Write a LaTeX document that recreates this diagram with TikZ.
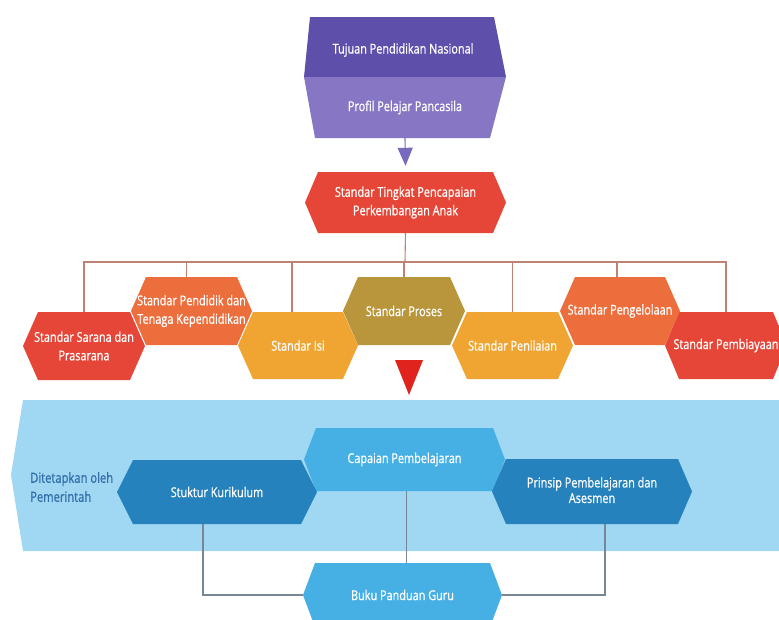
\documentclass[tikz,border=0pt]{standalone}
\usepackage{fontspec}
\setmainfont{Open Sans}[FakeStretch=0.8, FakeBold=0.7]
\usetikzlibrary{arrows.meta}
\definecolor{pdark}{RGB}{94,80,170}
\definecolor{plight}{RGB}{134,118,196}
\definecolor{parrow}{RGB}{120,105,190}
\definecolor{cred}{RGB}{230,70,55}
\definecolor{corange}{RGB}{236,110,60}
\definecolor{cyellow}{RGB}{240,165,50}
\definecolor{colive}{RGB}{185,150,60}
\definecolor{tri}{RGB}{225,35,30}
\definecolor{band}{RGB}{160,215,242}
\definecolor{bmid}{RGB}{70,175,228}
\definecolor{bdark}{RGB}{38,130,188}
\definecolor{bandtext}{RGB}{50,110,170}
\definecolor{brline}{RGB}{190,130,115}
\definecolor{gline}{RGB}{120,135,150}
\newcommand{\hexbox}[8]{%
  \fill[#7] (#2+#6,#3) -- (#4-#6,#3) -- (#4,{(#3+#5)/2}) -- (#4-#6,#5) -- (#2+#6,#5) -- (#2,{(#3+#5)/2}) -- cycle;
  \node[lbl, minimum width={(#4-#2)*1pt}, minimum height={(#5-#3)*1pt}] (#1) at ({(#2+#4)/2},{(#3+#5)/2}) {#8};
}
\begin{document}
\begin{tikzpicture}[x=1pt,y=-1pt,
  lbl/.style={align=center, text=white, font=\fontsize{13.6}{18.5}\selectfont, inner sep=0pt, draw=none},
  warmline/.style={draw=brline, line width=1.1pt},
  coolline/.style={draw=gline, line width=1.1pt}]
\useasboundingbox (0,0) rectangle (779,619);
\clip (0,0) rectangle (779,619);
% band
\fill[band] (23,400) -- (800,400) -- (800,551) -- (23,551) -- (11,475) -- cycle;
\node[anchor=west, align=left, text=bandtext, font=\fontsize{14}{19}\selectfont, inner sep=0pt] (ditetapkan) at (30,487) {Ditetapkan oleh\\Pemerintah};
% top purple shape
\fill[pdark] (310,17) -- (494,17) -- (506,77) -- (304,77) -- cycle;
\fill[plight] (304,77) -- (506,77) -- (490,138) -- (315,138) -- cycle;
\node[lbl, minimum width=202pt, minimum height=60pt] (tujuan) at (403,50) {Tujuan Pendidikan Nasional};
\node[lbl, minimum width=202pt, minimum height=61pt] (profil) at (405,107.5) {Profil Pelajar Pancasila};
% STPPA
\hexbox{stppa}{305}{172}{506}{233}{13}{cred}{Standar Tingkat Pencapaian\\Perkembangan Anak}
% standards row
\hexbox{sarana}{23}{312}{145}{380}{15}{cred}{Standar Sarana dan\\Prasarana}
\hexbox{isi}{238}{312}{358}{379}{15}{cyellow}{Standar Isi}
\hexbox{penilaian}{452}{312}{573}{379}{15}{cyellow}{Standar Penilaian}
\hexbox{pembiayaan}{665}{312}{787}{379}{14}{cred}{Standar Pembiayaan}
\hexbox{pendidik}{131}{277}{252}{345}{15}{corange}{Standar Pendidik dan\\Tenaga Kependidikan}
\hexbox{proses}{343}{277}{465}{345}{15}{colive}{Standar Proses}
\hexbox{pengelolaan}{560}{277}{680}{345}{15}{corange}{Standar Pengelolaan}
% red triangle
\fill[tri] (395,360) -- (423,360) -- (409,395) -- cycle;
% blue shapes
\hexbox{capaian}{304}{428}{505}{491}{12}{bmid}{Capaian Pembelajaran}
\hexbox{stuktur}{117}{460}{317}{524}{16}{bdark}{Stuktur Kurikulum}
\hexbox{prinsip}{492}{459}{692}{524}{14}{bdark}{\begin{tabular}{@{}c@{}}Prinsip Pembelajaran dan\\[-3pt]Asesmen\end{tabular}}
\hexbox{buku}{303}{563}{502}{627}{12}{bmid}{Buku Panduan Guru}
% connectors top
\draw[draw=parrow, line width=1.1pt, -{Triangle[width=15pt,length=18pt]}] (profil.south) -- ([yshift=6pt]stppa.north);
\coordinate (bar) at (405,262);
\draw[warmline] (stppa.south) -- (bar);
\draw[warmline] (sarana.north) |- (bar) -| (pembiayaan.north);
\draw[warmline] ([xshift=-5pt]pendidik.north) -- ([xshift=-5pt]pendidik.north |- bar);
\draw[warmline] ([xshift=-6pt]isi.north) -- ([xshift=-6pt]isi.north |- bar);
\draw[warmline] (proses.north) -- (proses.north |- bar);
\draw[warmline] (penilaian.north) -- (penilaian.north |- bar);
\draw[warmline] ([xshift=-3pt]pengelolaan.north) -- ([xshift=-3pt]pengelolaan.north |- bar);
% connectors bottom
\draw[coolline] ([xshift=-14pt]stuktur.south) |- (buku.west);
\draw[coolline] ([xshift=2pt]capaian.south) -- ([xshift=2pt]capaian.south |- buku.north);
\draw[coolline] ([xshift=13pt]prinsip.south) |- (buku.east);
\end{tikzpicture}
\end{document}
